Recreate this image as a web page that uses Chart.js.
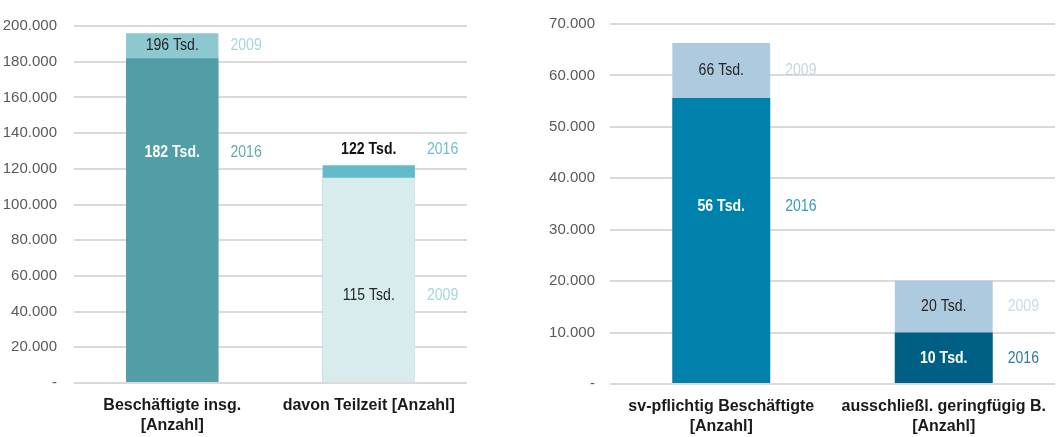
<!DOCTYPE html>
<html>
<head>
<meta charset="utf-8">
<script src="https://cdn.jsdelivr.net/npm/chart.js@4/dist/chart.umd.min.js"></script>
<style>
    body { margin: 0; background: #fff; width: 1057px; height: 437px; position: relative; overflow: hidden; }
    .box { position: absolute; top: 0; height: 437px; }
</style>
</head>
<body>
<div class="box" style="left:0;width:470px"><canvas id="left"></canvas></div>
<div class="box" style="left:480px;width:577px"><canvas id="right"></canvas></div>
<script>
// left chart: Beschäftigte
var leftCategories = [['Beschäftigte insg.', '[Anzahl]'], 'davon Teilzeit [Anzahl]']
var left2009 = [196000, 115000]
var left2016 = [182000, 122000]
var leftMax = 200000
var leftStep = 20000

// right chart: sv-pflichtig / geringfügig
var rightCategories = [['sv-pflichtig Beschäftigte', '[Anzahl]'], ['ausschließl. geringfügig B.', '[Anzahl]']]
var right2009 = [66300, 20100]
var right2016 = [55600, 10000]
var rightMax = 70000
var rightStep = 10000

// where the value labels sit (in axis units)
var leftLabelAt2009 = [189000, 49000]
var leftLabelAt2016 = [129000, 131000]
var rightLabelAt2009 = [61000, 15000]
var rightLabelAt2016 = [34500, 5000]

var fontWide = '"Liberation Sans", Arial, sans-serif'

function fmt(v) {
    if (v === 0) return '-'
    return String(v).replace(/\B(?=(\d{3})+(?!\d))/g, '.')
}

// squeeze text a bit so it looks like the narrow font of the original
function narrowText(ctx, text, x, y, align) {
    ctx.save()
    ctx.translate(x, y)
    ctx.scale(0.88, 1)
    ctx.textAlign = align
    ctx.fillText(text, 0, 0)
    ctx.restore()
}

// value labels + year labels next to the bars
var barNotes = {
    id: 'barNotes',
    afterDatasetsDraw: function (chart, args, opts) {
        var ctx = chart.ctx
        var y = chart.scales.y
        var back = chart.getDatasetMeta(0).data
        ctx.save()
        ctx.textBaseline = 'middle'
        for (var i = 0; i < back.length; i++) {
            var bar = back[i]
            var x = bar.x
            var right = bar.x + bar.width / 2 + opts.yearGap
            var series = [
                { year: '2009', v: opts.v2009[i], at: opts.at2009[i], bold: false, col: opts.valCol2009[i], ycol: opts.yearCol2009[i] },
                { year: '2016', v: opts.v2016[i], at: opts.at2016[i], bold: true, col: opts.valCol2016[i], ycol: opts.yearCol2016[i] }
            ]
            series.forEach(function (s) {
                var py = y.getPixelForValue(s.at)
                ctx.font = (s.bold ? 'bold ' : '') + '16px ' + fontWide
                ctx.fillStyle = s.col
                narrowText(ctx, Math.round(s.v / 1000) + ' Tsd.', x, py, 'center')
                ctx.font = '16px ' + fontWide
                ctx.fillStyle = s.ycol
                narrowText(ctx, s.year, right, py, 'left')
            })
        }
        ctx.restore()
    }
}

function makeChart(id, cats, v2009, v2016, max, step, cfg) {
    var backVals = [], frontVals = [], backCols = [], frontCols = []
    for (var i = 0; i < cats.length; i++) {
        var newer = v2016[i] >= v2009[i]
        backVals.push(Math.max(v2009[i], v2016[i]))
        frontVals.push(Math.min(v2009[i], v2016[i]))
        backCols.push(newer ? cfg.col2016[i] : cfg.col2009[i])
        frontCols.push(newer ? cfg.col2009[i] : cfg.col2016[i])
    }
    var canvas = document.getElementById(id).getContext('2d')
    return new Chart(canvas, {
        type: 'bar',
        data: {
            labels: cats,
            datasets: [
                { data: backVals, backgroundColor: backCols, grouped: false, order: 2,
                  barPercentage: cfg.barPct, categoryPercentage: 1 },
                { data: frontVals, backgroundColor: frontCols, grouped: false, order: 1,
                  barPercentage: cfg.barPct, categoryPercentage: 1 }
            ]
        },
        options: {
            responsive: true,
            maintainAspectRatio: false,
            animation: false,
            layout: { padding: { top: cfg.padTop, right: cfg.padRight, bottom: 0, left: 0 } },
            plugins: {
                legend: { display: false },
                tooltip: { enabled: false },
                barNotes: {
                    v2009: v2009, v2016: v2016, at2009: cfg.at2009, at2016: cfg.at2016,
                    valCol2009: cfg.valCol2009, valCol2016: cfg.valCol2016,
                    yearCol2009: cfg.yearCol2009, yearCol2016: cfg.yearCol2016,
                    yearGap: cfg.yearGap
                }
            },
            scales: {
                x: {
                    grid: { display: false },
                    border: { display: false },
                    ticks: {
                        color: '#1a1a1a', maxRotation: 0, autoSkip: false, padding: 5,
                        font: { family: fontWide, size: 16, weight: 'bold', lineHeight: 1.25 }
                    },
                    afterFit: function (s) { s.height = cfg.xHeight }
                },
                y: {
                    min: 0, max: max,
                    border: { display: false },
                    grid: { color: '#DADADA', lineWidth: 2, drawTicks: false },
                    ticks: {
                        stepSize: step, color: '#595959', padding: cfg.tickPad,
                        font: { family: fontWide, size: 15 },
                        callback: function (v) { return fmt(v) }
                    },
                    afterFit: function (s) { s.width = cfg.axisWidth }
                }
            }
        },
        plugins: [barNotes]
    })
}

makeChart('left', leftCategories, left2009, left2016, leftMax, leftStep, {
    col2009: ['#8DC8D1', '#D8ECEE'],
    col2016: ['#529EA7', '#62BACA'],
    valCol2009: ['#262626', '#262626'],
    valCol2016: ['#ffffff', '#111111'],
    yearCol2009: ['#A6D6DE', '#A6D6DE'],
    yearCol2016: ['#62AAB4', '#6CC0CE'],
    at2009: leftLabelAt2009, at2016: leftLabelAt2016,
    barPct: 0.47, padTop: 20, padRight: 3, xHeight: 54, tickPad: 17, axisWidth: 74, yearGap: 12
})

makeChart('right', rightCategories, right2009, right2016, rightMax, rightStep, {
    col2009: ['#AECADF', '#AECADF'],
    col2016: ['#0081AC', '#005F85'],
    valCol2009: ['#262626', '#262626'],
    valCol2016: ['#ffffff', '#ffffff'],
    yearCol2009: ['#C2D6E8', '#C8DAEA'],
    yearCol2016: ['#3A9AC0', '#2E7A9E'],
    at2009: rightLabelAt2009, at2016: rightLabelAt2016,
    barPct: 0.44, padTop: 19, padRight: 2, xHeight: 53, tickPad: 15, axisWidth: 130, yearGap: 15
})
</script>
</body>
</html>
